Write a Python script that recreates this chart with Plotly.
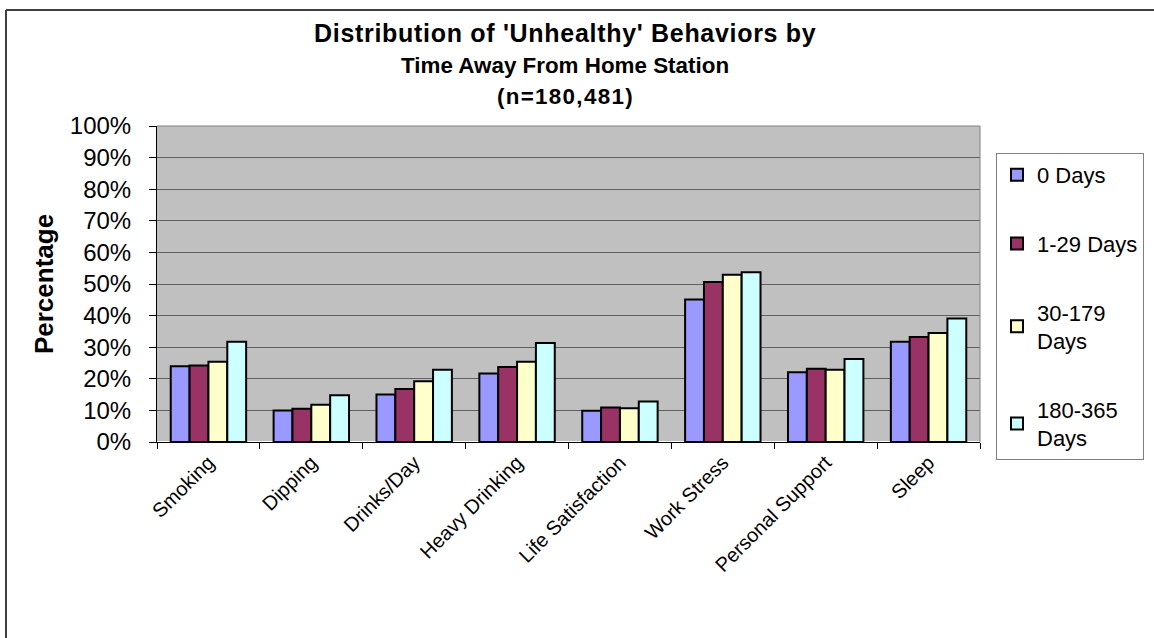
import plotly.graph_objects as go

categories = ["Smoking", "Dipping", "Drinks/Day", "Heavy Drinking", "Life Satisfaction",
              "Work Stress", "Personal Support", "Sleep"]
series_names = ["0 Days", "1-29 Days", "30-179<br>Days", "180-365<br>Days"]
days_0 = [24.0, 10.0, 15.0, 21.7, 9.9, 45.1, 22.1, 31.7]
days_1_29 = [24.2, 10.5, 16.8, 23.7, 10.9, 50.6, 23.2, 33.2]
days_30_179 = [25.4, 11.8, 19.2, 25.4, 10.7, 52.9, 22.9, 34.5]
days_180_365 = [31.7, 14.8, 22.9, 31.3, 12.8, 53.7, 26.3, 39.1]
colors = ["#9999FF", "#993366", "#FFFFCC", "#CCFFFF"]
tick_vals = [0, 10, 20, 30, 40, 50, 60, 70, 80, 90, 100]
tick_text = [f"{v}%" for v in tick_vals]
title_lines = ["Distribution of 'Unhealthy' Behaviors by",
               "Time Away From Home Station",
               "(n=180,481)"]

fig = go.Figure()
for i, (name, vals) in enumerate(zip(series_names, [days_0, days_1_29, days_30_179, days_180_365])):
    fig.add_trace(go.Bar(
        x=categories, y=vals, name=name, legendgroup=f"g{i}",
        marker=dict(color=colors[i], line=dict(color="black", width=2)),
    ))

W, H = 1154, 638
L, R, T, B = 157, 174, 126, 196
pw, ph = W - L - R, H - T - B

def px(x):
    return (x - L) / pw

def py(y):
    return (H - B - y) / ph

title_y = [33, 65, 97]
title_size = [25, 22.4, 22.4]
title_spacing = [0.7, 0, 1.3]
annotations = []
for line, yy, sz, sp in zip(title_lines, title_y, title_size, title_spacing):
    txt = f"<b>{line}</b>"
    if sp:
        txt = f'<span style="letter-spacing:{sp}px"><b>{line}</b></span>'
    annotations.append(dict(
        text=txt, xref="paper", yref="paper", x=px(565), y=py(yy),
        xanchor="center", yanchor="middle", showarrow=False,
        font=dict(size=sz),
    ))

fig.update_layout(
    width=W, height=H,
    margin=dict(l=L, r=R, t=T, b=B, autoexpand=False),
    paper_bgcolor="white",
    plot_bgcolor="#C0C0C0",
    barmode="group",
    bargap=0.267,
    bargroupgap=0,
    font=dict(family="Liberation Sans, Arial, sans-serif", color="black"),
    annotations=annotations,
    legend=dict(
        x=px(996), xanchor="left", y=py(153), yanchor="top",
        bordercolor="#808080", borderwidth=1, bgcolor="white",
        font=dict(size=22), tracegroupgap=37,
        itemwidth=30,
    ),
    xaxis=dict(
        tickangle=-45, tickfont=dict(size=20),
        showline=True, linecolor="black", linewidth=1,
        ticks="outside", tickson="boundaries", ticklen=6, tickcolor="black",
        showgrid=False,
    ),
    yaxis=dict(
        range=[0, 100], tickvals=tick_vals, ticktext=tick_text,
        tickfont=dict(size=24), ticklabelstandoff=13,
        showline=True, linecolor="black", linewidth=1,
        ticks="outside", ticklen=7, tickcolor="black",
        gridcolor="#606060", gridwidth=1,
        title=dict(text="<b>Percentage</b>", font=dict(size=26), standoff=8),
    ),
    shapes=[
        dict(type="line", xref="paper", yref="paper",
             x0=px(6), x1=px(6), y0=py(H), y1=py(10),
             line=dict(color="#404040", width=2)),
        dict(type="line", xref="paper", yref="paper",
             x0=px(6), x1=px(W), y0=py(10), y1=py(10),
             line=dict(color="#404040", width=2)),
        dict(type="line", xref="paper", yref="paper",
             x0=0, x1=1, y0=1, y1=1, line=dict(color="#808080", width=1)),
        dict(type="line", xref="paper", yref="paper",
             x0=1, x1=1, y0=0, y1=1, line=dict(color="#808080", width=1)),
    ],
)

fig.write_html("out.html", config={"displayModeBar": False},
               post_script="document.body.style.margin='0';")
